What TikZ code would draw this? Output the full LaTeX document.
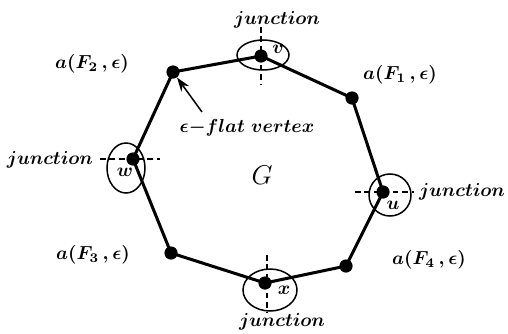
\documentclass[tikz,border=0pt]{standalone}
\usepackage{amsmath}
\usepackage{amssymb}
\usetikzlibrary{arrows.meta,calc,positioning}
\tikzset{
  edge/.style      = {line width=1.6pt},
  vdot/.style      = {circle, fill=black, inner sep=0pt, minimum size=7pt},
  ring/.style      = {line width=0.8pt},
  cut/.style       = {line width=0.7pt, densely dashed},
  lbl/.style       = {font=\boldmath, inner sep=1pt},
  pointer/.style   = {-{Stealth[length=2.6mm,width=1.8mm]}, line width=0.8pt},
}

\begin{document}
\begin{tikzpicture}[x=0.53pt,y=-0.53pt]
  \useasboundingbox (0,0) rectangle (508,333);
  % ---- vertices of the polygon -------------------------------------------
  \node[vdot] (v)  at (261,56)  {};
  \node[vdot] (f1) at (352,98)  {};
  \node[vdot] (u)  at (383,192) {};
  \node[vdot] (f4) at (346,266) {};
  \node[vdot] (x)  at (265,283) {};
  \node[vdot] (f3) at (171,253) {};
  \node[vdot] (w)  at (133,159) {};
  \node[vdot] (f2) at (173,72)  {};
  \draw[edge,line join=round] (v.center) -- (f1.center) -- (u.center) -- (f4.center)
                -- (x.center) -- (f3.center) -- (w.center) -- (f2.center) -- cycle;

  % ---- junctions ---------------------------------------------------------
  \draw[ring] (263,55) ellipse (26 and 15);
  \draw[cut] (261,27) -- (261,85);
  \node[lbl] (jv) at (277,20) {$junction$};
  \node[lbl] at (278,49) {$v$};

  \draw[ring] (126,168) ellipse (19 and 25);
  \draw[cut] (100,159) -- (160,159);
  \node[lbl] (jw) at (50,160) {$junction$};
  \node[lbl] at (125,172) {$w$};

  \draw[ring] (390,195) circle (21);
  \draw[cut] (355,192) -- (414,192);
  \node[lbl] (ju) at (462,192) {$junction$};
  \node[lbl] at (393,205) {$u$};

  \draw[ring] (270,290) ellipse (27 and 21);
  \draw[cut] (267,255) -- (267,312);
  \node[lbl] (jx) at (282,322) {$junction$};
  \node[lbl] at (284,290) {$x$};

  % ---- face labels -------------------------------------------------------
  \node[lbl] (af1) at (400,75)  {$a(F_1\,,\epsilon)$};
  \node[lbl] (af2) at (92,64)   {$a(F_2\,,\epsilon)$};
  \node[lbl] (af3) at (93,255)  {$a(F_3\,,\epsilon)$};
  \node[lbl] (af4) at (429,260) {$a(F_4\,,\epsilon)$};

  \node[lbl] (flat) at (247,128) {$\epsilon{-}flat\ vertex$};
  \draw[pointer] (202,112) -- (f2);
  \node[font=\Large] (G) at (262,175) {$G$};
\end{tikzpicture}
\end{document}
